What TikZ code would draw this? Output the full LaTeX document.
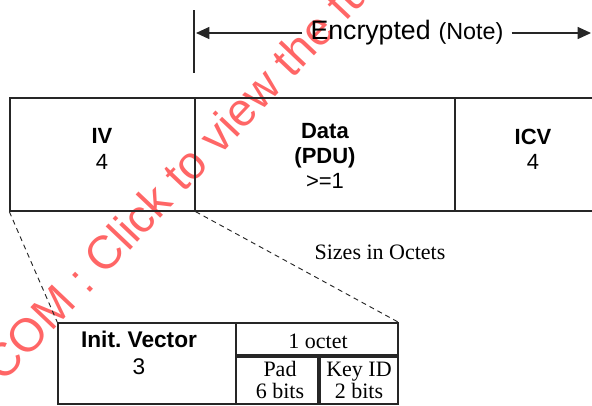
\documentclass[tikz,border=0pt]{standalone}
\usepackage{fontspec}
\setmainfont{Liberation Sans}
\newfontfamily\serifface{Liberation Serif}
\usepackage{tikz}
\usetikzlibrary{arrows.meta,fit}
\frenchspacing

\begin{document}
\begin{tikzpicture}[
    x=0.75pt, y=-0.75pt,
    every node/.style={font=\fontsize{16.5}{19}\selectfont},
    cell/.style={draw=black!85, line width=1pt, inner sep=0pt},
    fieldtext/.style={align=center, inner sep=0pt},
    octettext/.style={align=center, inner sep=0pt,
                      font=\serifface\fontsize{16.5}{16.5}\selectfont},
    enclabel/.style={inner xsep=6pt, inner ysep=0pt,
                     font=\fontsize{20}{20}\selectfont},
    encarrow/.style={-{Triangle[length=10pt,width=9pt]}, line width=0.9pt, black!85},
    zoomline/.style={black!85, line width=0.7pt, dash pattern=on 3.75pt off 3pt},
    watermark/.style={text=red!60, font=\fontsize{35}{36}\selectfont},
]

\useasboundingbox (0,0) rectangle (592,405);
\clip (0,0) rectangle (592,405);

% -------- Watermark --------
\node[watermark, rotate=46.5] (wm) at (183,170) {COM : Click to view the full};

% -------- Encrypted span --------
\draw[black!85, line width=0.9pt] (194,10) -- (194,73);
\node[enclabel] (enc) at (407,33)
  {Encrypted\hspace{6pt}{\fontsize{17.5}{17.5}\selectfont(Note)}};
\coordinate (encL) at (196,33);
\coordinate (encR) at (591,33);
\draw[encarrow] (enc) -- (encL);
\draw[encarrow] (enc) -- (encR);

% -------- Frame fields --------
\node[cell, fit={(10,98) (195,211)}]  (iv)   {};
\node[cell, fit={(195,98) (455,211)}] (data) {};
\node[cell, fit={(455,98) (620,211)}] (icv)  {};

\node[fieldtext] (ivtxt)   at (102,149) {\textbf{IV}\\4};
\node[fieldtext] (datatxt) at (325,156) {\textbf{Data}\\\textbf{(PDU)}\\>=1};
\node[fieldtext] (icvtxt)  at (533,149) {\textbf{ICV}\\4};

\node[octettext] (sizes) at (380,252) {Sizes in Octets};

% -------- IV expansion --------
\node[cell, fit={(58,323) (236,404)}]  (initv) {};
\node[cell, fit={(236,323) (398,355)}] (octet) {};
\node[cell, fit={(236,357) (318,404)}] (pad)   {};
\node[cell, fit={(320,357) (398,404)}] (keyid) {};

\node[fieldtext, font=\fontsize{17}{20}\selectfont] (initvtxt) at (139,353)
  {\textbf{Init. Vector}\\3};
\node[octettext] (octettxt) at (318,341) {1 octet};
\node[octettext] (padtxt)   at (280,380) {Pad\\6 bits};
\node[octettext] (keyidtxt) at (359,380) {Key ID\\2 bits};

\draw[zoomline] (iv.south west) -- (initv.north west);
\draw[zoomline] (iv.south east) -- (octet.north east);

\end{tikzpicture}
\end{document}
